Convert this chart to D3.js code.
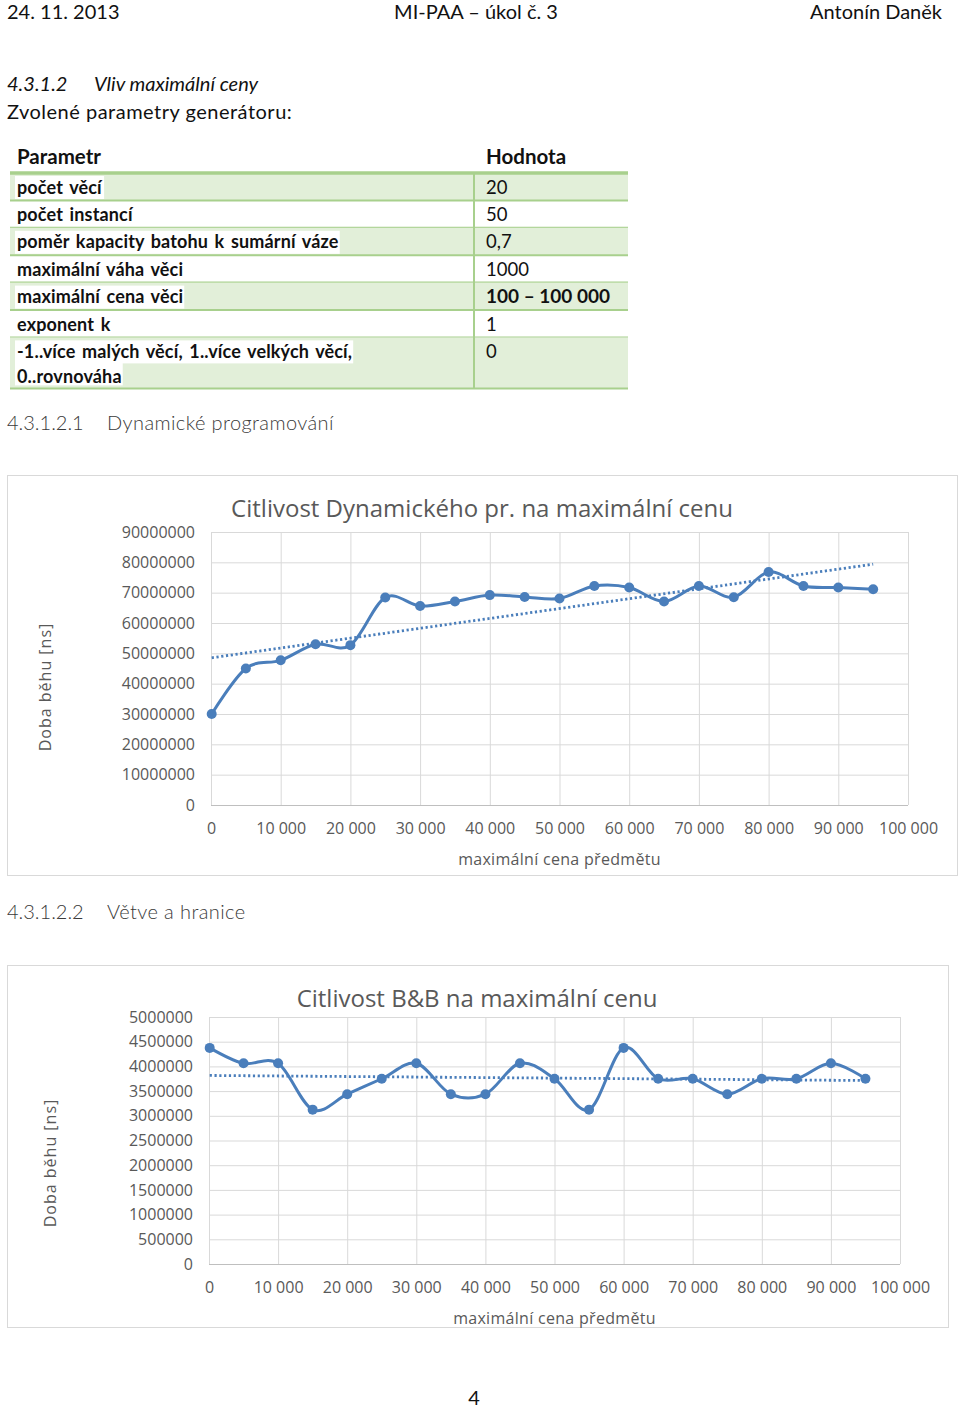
<!DOCTYPE html>
<html>
<head>
<meta charset="utf-8">
<script src="https://cdn.jsdelivr.net/npm/d3@7"></script>
<style>
  html, body { margin: 0; padding: 0; background: #fff; }
  svg { display: block; }
  .doc { font-family: Lato, "Open Sans", sans-serif; fill: #111; }
  .chart text { font-family: "Open Sans", sans-serif; fill: #595959; }
</style>
</head>
<body>
<div id="page"></div>
<script>
// generator parameters (table)
var paramNames = ["počet věcí", "počet instancí", "poměr kapacity batohu k sumární váze",
  "maximální váha věci", "maximální cena věci", "exponent k",
  "-1..více malých věcí, 1..více velkých věcí,|0..rovnováha"];
var paramValues = ["20", "50", "0,7", "1000", "100 – 100 000", "1", "0"];

// measured data, x = maximal item price
var maxPrice = [100, 5000, 10000, 15000, 20000, 25000, 30000, 35000, 40000, 45000,
  50000, 55000, 60000, 65000, 70000, 75000, 80000, 85000, 90000, 95000];
var dpTime = [30000000, 45000000, 47700000, 53000000, 52700000, 68400000, 65600000, 67100000,
  69200000, 68600000, 68100000, 72200000, 71700000, 67100000, 72200000, 68500000,
  76800000, 72200000, 71700000, 71100000];
var bbTime = [4375000, 4062500, 4062500, 3125000, 3437500, 3750000, 4062500, 3437500,
  3437500, 4062500, 3750000, 3125000, 4375000, 3750000, 3750000, 3437500,
  3750000, 3750000, 4062500, 3750000];

var xTicks = [0, 10000, 20000, 30000, 40000, 50000, 60000, 70000, 80000, 90000, 100000];
var dpTicks = [0, 10000000, 20000000, 30000000, 40000000, 50000000, 60000000, 70000000, 80000000, 90000000];
var bbTicks = [0, 500000, 1000000, 1500000, 2000000, 2500000, 3000000, 3500000, 4000000, 4500000, 5000000];

var W = 960, H = 1409;
var blue = "#4a7ebb";

var svg = d3.select("#page").append("svg")
  .attr("width", W).attr("height", H);
svg.append("rect").attr("width", W).attr("height", H).attr("fill", "#fff");

var doc = svg.append("g").attr("class", "doc");

// page header
doc.append("text").attr("x", 7).attr("y", 19).attr("font-size", 20).text("24. 11. 2013");
doc.append("text").attr("x", 476).attr("y", 19).attr("font-size", 20)
  .attr("text-anchor", "middle").text("MI-PAA – úkol č. 3");
doc.append("text").attr("x", 942).attr("y", 19).attr("font-size", 20)
  .attr("text-anchor", "end").text("Antonín Daněk");

doc.append("text").attr("x", 7).attr("y", 91).attr("font-size", 20)
  .attr("font-style", "italic").text("4.3.1.2");
doc.append("text").attr("x", 94).attr("y", 91).attr("font-size", 20)
  .attr("font-style", "italic").text("Vliv maximální ceny");
doc.append("text").attr("x", 7).attr("y", 119).attr("font-size", 20)
  .attr("letter-spacing", 0.5).text("Zvolené parametry generátoru:");

// table
var tx0 = 10, tx1 = 628, tcol = 474, rowTop = 173, rowH = 27.4;
var green = "#a8d08d", shade = "#e2efd9";
var tbl = doc.append("g").attr("font-size", 18);
tbl.append("text").attr("x", 17).attr("y", 164).attr("font-size", 20.5)
  .attr("font-weight", "bold").text("Parametr");
tbl.append("text").attr("x", 486).attr("y", 164).attr("font-size", 20.5)
  .attr("font-weight", "bold").text("Hodnota");

var y0 = rowTop;
paramNames.forEach(function(name, i) {
  var lines = name.split("|");
  var h = lines.length > 1 ? 51 : rowH;
  var shaded = i % 2 === 0;
  var g = tbl.append("g");
  if (shaded) g.append("rect").attr("x", tx0).attr("y", y0).attr("width", tx1 - tx0)
    .attr("height", h).attr("fill", shade);
  lines.forEach(function(l, j) {
    var by = y0 + 20.5 + j * 25;
    var t = g.append("text").attr("x", 17).attr("y", by).attr("font-weight", "bold")
      .attr("word-spacing", 2).attr("letter-spacing", 0.15).text(l);
    if (shaded) {
      var bb = t.node().getBBox();
      g.insert("rect", "text").attr("x", 15).attr("y", y0 + (j ? 24 : 2) + 1)
        .attr("width", bb.width + 3).attr("height", 23).attr("fill", "#fff");
    }
  });
  g.append("text").attr("x", 486).attr("y", y0 + 20.5).attr("font-size", i === 4 ? 19 : 18.5)
    .attr("font-weight", i === 4 ? "bold" : "normal").text(paramValues[i]);
  y0 += h;
  g.append("line").attr("x1", tx0).attr("x2", tx1).attr("y1", y0).attr("y2", y0)
    .attr("stroke", green).attr("stroke-width", 2);
});
tbl.append("line").attr("x1", tx0).attr("x2", tx1).attr("y1", rowTop).attr("y2", rowTop)
  .attr("stroke", green).attr("stroke-width", 3.5);
tbl.append("line").attr("x1", tcol).attr("x2", tcol).attr("y1", rowTop).attr("y2", y0)
  .attr("stroke", green).attr("stroke-width", 2);

// section headings
[["4.3.1.2.1", "Dynamické programování", 430], ["4.3.1.2.2", "Větve a hranice", 919]].forEach(function(s) {
  doc.append("text").attr("x", 7).attr("y", s[2]).attr("font-size", 20)
    .attr("font-weight", 300).style("fill", "#3a3a3a").text(s[0]);
  doc.append("text").attr("x", 107).attr("y", s[2]).attr("font-size", 20)
    .attr("font-weight", 300).attr("letter-spacing", 0.4).style("fill", "#3a3a3a").text(s[1]);
});

doc.append("text").attr("x", 474).attr("y", 1405).attr("font-size", 20)
  .attr("text-anchor", "middle").text("4");

var fmtX = d3.formatLocale({decimal: ",", thousands: " ", grouping: [3], currency: ["", ""]}).format(",");

function drawChart(o) {
  var g = svg.append("g").attr("class", "chart");
  g.append("rect").attr("x", o.box[0] + 0.5).attr("y", o.box[1] + 0.5)
    .attr("width", o.box[2] - o.box[0]).attr("height", o.box[3] - o.box[1])
    .attr("fill", "#fff").attr("stroke", "#d9d9d9");

  var x = d3.scaleLinear().domain([0, 100000]).range([o.left, o.right]);
  var y = d3.scaleLinear().domain([0, o.ticks[o.ticks.length - 1]]).range([o.bottom, o.top]);

  g.append("text").attr("x", o.titleX).attr("y", o.titleY).attr("font-size", 24)
    .attr("text-anchor", "middle").text(o.title);

  var ya = g.append("g").attr("transform", "translate(" + o.left + ",0)")
    .call(d3.axisLeft(y).tickValues(o.ticks).tickSize(-(o.right - o.left))
      .tickPadding(16).tickFormat(d3.format("d")));
  ya.select(".domain").remove();
  ya.selectAll("line").attr("stroke", "#d9d9d9");
  ya.selectAll("text").attr("font-size", 16).style("font-family", "\"Open Sans\", sans-serif")
    .attr("fill", "#595959");

  var xa = g.append("g").attr("transform", "translate(0," + o.bottom + ")")
    .call(d3.axisBottom(x).tickValues(xTicks).tickSize(-(o.bottom - o.top))
      .tickPadding(18).tickFormat(fmtX));
  xa.select(".domain").attr("stroke", "#bfbfbf").attr("d", "M" + o.left + ",0.5H" + o.right);
  xa.selectAll("line").attr("stroke", "#d9d9d9");
  xa.selectAll("text").attr("font-size", 16).style("font-family", "\"Open Sans\", sans-serif")
    .attr("fill", "#595959");

  g.append("text").attr("x", (o.left + o.right) / 2).attr("y", o.bottom + 60)
    .attr("font-size", 16).attr("text-anchor", "middle").attr("letter-spacing", 0.3)
    .text("maximální cena předmětu");
  g.append("text").attr("transform", "translate(" + o.yTitleX + "," + o.yTitleY + ") rotate(-90)")
    .attr("font-size", 16).attr("text-anchor", "middle").attr("letter-spacing", 1)
    .text("Doba běhu [ns]");

  // linear trend line
  var mx = d3.mean(maxPrice), my = d3.mean(o.values);
  var sxy = d3.sum(maxPrice, function(v, i) { return (v - mx) * (o.values[i] - my); });
  var sxx = d3.sum(maxPrice, function(v) { return (v - mx) * (v - mx); });
  var k = sxy / sxx, q = my - k * mx;
  var ends = [maxPrice[0], maxPrice[maxPrice.length - 1]];
  g.append("path")
    .attr("d", d3.line().x(function(d) { return x(d); }).y(function(d) { return y(k * d + q); })(ends))
    .attr("fill", "none").attr("stroke", blue).attr("stroke-width", 2.8)
    .attr("stroke-dasharray", "2.2,2.6");

  var pts = maxPrice.map(function(v, i) { return [v, o.values[i]]; });
  g.append("path")
    .attr("d", d3.line().x(function(d) { return x(d[0]); }).y(function(d) { return y(d[1]); })
      .curve(d3.curveCatmullRom.alpha(0))(pts))
    .attr("fill", "none").attr("stroke", blue).attr("stroke-width", 3);
  g.selectAll(".dot").data(pts).enter().append("circle").attr("class", "dot")
    .attr("cx", function(d) { return x(d[0]); }).attr("cy", function(d) { return y(d[1]); })
    .attr("r", 5).attr("fill", blue);
}

drawChart({
  box: [7, 475, 957, 875], left: 211, right: 908, top: 532, bottom: 805,
  title: "Citlivost Dynamického pr. na maximální cenu", titleX: 482, titleY: 517,
  yTitleX: 51, yTitleY: 687, ticks: dpTicks, values: dpTime
});
drawChart({
  box: [7, 965, 948, 1327], left: 209, right: 900, top: 1017, bottom: 1264,
  title: "Citlivost B&B na maximální cenu", titleX: 477, titleY: 1007,
  yTitleX: 56, yTitleY: 1163, ticks: bbTicks, values: bbTime
});
</script>
</body>
</html>
